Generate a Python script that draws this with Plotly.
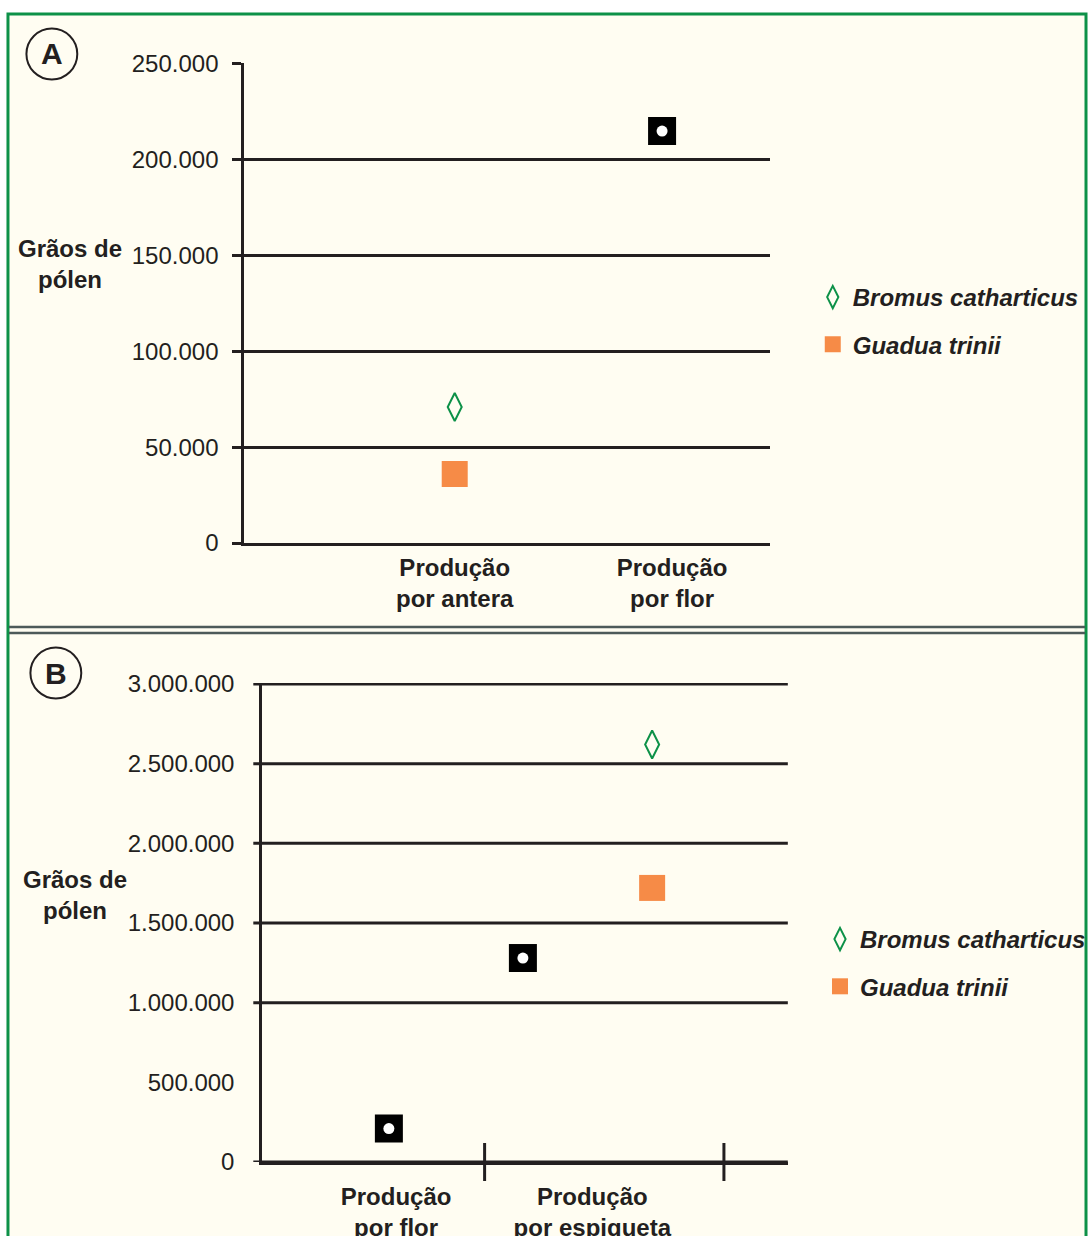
import plotly.graph_objects as go

# ---------------- data ----------------
cats_A = ["Produção por antera", "Produção por flor"]
bromus_A = [71000, None]
guadua_A = [36000, None]
third_A = [None, 215000]
yticks_A = [0, 50000, 100000, 150000, 200000, 250000]

cats_B = ["Produção por flor", "Produção por espigueta"]
bromus_B = [None, 2620000]
guadua_B = [None, 1720000]
third_B = [210000, 1280000]
yticks_B = [0, 500000, 1000000, 1500000, 2000000, 2500000, 3000000]
grid_B = [0, 1000000, 1500000, 2000000, 2500000, 3000000]

species = ["Bromus catharticus", "Guadua trinii"]
ytitle = "Grãos de pólen"

# ---------------- style ----------------
W, H = 1091, 1236
INK = "#231f20"
CREAM = "#fffdf2"
GREEN = "#0d9148"
ORANGE = "#f68b47"
FONT = "Liberation Sans, Arial, sans-serif"

def px_x(p):
    return p / W

def px_y(p):
    return 1 - p / H

def fmt(v):
    return f"{v:,}".replace(",", ".")

def two_line(label):
    a, b = label.split(" ", 1)
    return f"<b>{a}</b><br><b>{b}</b>"

# category positions (numeric axis), with small visual nudges per series
pos_A = [i + 1 for i in range(len(cats_A))]
pos_B = [i + 1 for i in range(len(cats_B))]
nudge_A_third = [0, -0.046]
nudge_B_species = [0.2, 0.2]
nudge_B_third = [0.1, -0.34]
label_nudge_B = [0.13, -0.05]

def xs(pos, vals, nudges):
    return [p + n for p, v, n in zip(pos, vals, nudges) if v is not None]

def ys(vals):
    return [v for v in vals if v is not None]

fig = go.Figure()

def add_panel(xa, ya, pos, bro, gua, thr, nb, nt, legend):
    fig.add_trace(go.Scatter(
        x=xs(pos, bro, nb), y=ys(bro), mode="markers", xaxis=xa, yaxis=ya,
        name=f"<b><i>{species[0]}</i></b>", legend=legend, legendgroup=legend + "b",
        marker=dict(symbol="diamond-tall-open", size=20, color=GREEN,
                    line=dict(width=2, color=GREEN)),
        showlegend=True))
    fig.add_trace(go.Scatter(
        x=xs(pos, gua, nb), y=ys(gua), mode="markers", xaxis=xa, yaxis=ya,
        name=f"<b><i>{species[1]}</i></b>", legend=legend, legendgroup=legend + "g",
        marker=dict(symbol="square", size=26, color=ORANGE, line=dict(width=0)),
        showlegend=True))
    fig.add_trace(go.Scatter(
        x=xs(pos, thr, nt), y=ys(thr), mode="markers", xaxis=xa, yaxis=ya,
        marker=dict(symbol="square", size=28, color="black", line=dict(width=0)),
        showlegend=False))
    fig.add_trace(go.Scatter(
        x=xs(pos, thr, nt), y=ys(thr), mode="markers", xaxis=xa, yaxis=ya,
        marker=dict(symbol="circle", size=11, color="white", line=dict(width=0)),
        showlegend=False))

add_panel("x", "y", pos_A, bromus_A, guadua_A, third_A,
          [0, 0], nudge_A_third, "legend")
add_panel("x2", "y2", pos_B, bromus_B, guadua_B, third_B,
          nudge_B_species, nudge_B_third, "legend2")

tickfont = dict(family=FONT, size=24, color=INK)
catfont = dict(family=FONT, size=24, color=INK)
legfont = dict(family=FONT, size=24, color=INK)
rngA = [0.032, 2.45]
rngB = [0.571, 2.767]
ymaxA = yticks_A[-1] * 1.002
ymaxB = yticks_B[-1] * 1.002

fig.update_layout(
    template="none",
    width=W, height=H, autosize=False,
    margin=dict(l=0, r=0, t=0, b=0, pad=0),
    paper_bgcolor="white", plot_bgcolor="rgba(0,0,0,0)",
    font=dict(family=FONT, color=INK),
    hovermode=False,
    xaxis=dict(
        domain=[px_x(245), px_x(772)], anchor="y", range=rngA,
        tickvals=pos_A, ticktext=[two_line(c) for c in cats_A],
        ticks="", showgrid=False, zeroline=False, automargin=False,
        showline=True, linecolor=INK, linewidth=3,
        tickfont=catfont, ticklabelstandoff=1, fixedrange=True),
    yaxis=dict(
        domain=[px_y(543), px_y(63)], anchor="x", range=[0, ymaxA],
        tickvals=yticks_A, ticktext=[fmt(v) for v in yticks_A],
        ticks="outside", ticklen=9, tickwidth=3, tickcolor=INK,
        showgrid=True, gridcolor=INK, gridwidth=3, zeroline=False,
        showline=True, linecolor=INK, linewidth=3, automargin=False,
        tickfont=tickfont, ticklabelstandoff=9, fixedrange=True),
    xaxis2=dict(
        domain=[px_x(263), px_x(790)], anchor="y2", range=rngB,
        tickvals=[p + n for p, n in zip(pos_B, label_nudge_B)],
        ticktext=[two_line(c) for c in cats_B],
        ticks="", showgrid=False, zeroline=False, automargin=False,
        showline=True, linecolor=INK, linewidth=3,
        tickfont=catfont, ticklabelstandoff=11, fixedrange=True),
    yaxis2=dict(
        domain=[px_y(1162), px_y(683)], anchor="x2", range=[0, ymaxB],
        tickvals=yticks_B, ticktext=[fmt(v) for v in yticks_B],
        ticks="", showgrid=False, zeroline=False, automargin=False,
        showline=True, linecolor=INK, linewidth=3,
        tickfont=tickfont, ticklabelstandoff=20, fixedrange=True),
    legend=dict(
        x=px_x(815), y=px_y(275), xanchor="left", yanchor="top",
        bgcolor="rgba(0,0,0,0)", borderwidth=0, font=legfont,
        traceorder="grouped", tracegroupgap=13, itemclick=False),
    legend2=dict(
        x=px_x(822.5), y=px_y(917), xanchor="left", yanchor="top",
        bgcolor="rgba(0,0,0,0)", borderwidth=0, font=legfont,
        traceorder="grouped", tracegroupgap=13, itemclick=False),
)

# panel frame and divider
fig.add_shape(type="rect", xref="paper", yref="paper",
              x0=px_x(8), x1=px_x(1089), y0=px_y(1250), y1=px_y(14),
              fillcolor=CREAM, line=dict(color=GREEN, width=3), layer="below")
for yy in (627, 633):
    fig.add_shape(type="line", xref="paper", yref="paper",
                  x0=px_x(9), x1=px_x(1088), y0=px_y(yy), y1=px_y(yy),
                  line=dict(color="#4d5a5a", width=2.5), layer="below")

# panel B gridlines (with their left tick stubs) and category boundary ticks
stub = 9 / (789 - 262)
for v in grid_B:
    fig.add_shape(type="line", xref="x2 domain", yref="y2",
                  x0=-stub, x1=1, y0=v, y1=v,
                  line=dict(color=INK, width=3), layer="below")
half = 19 / (1162 - 683)
for p in pos_B:
    fig.add_shape(type="line", xref="x2", yref="y2 domain",
                  x0=p + 0.5, x1=p + 0.5, y0=-half, y1=half,
                  line=dict(color=INK, width=3), layer="below")

# panel letters
for letter, cx, cy in (("A", 52, 54), ("B", 56, 673)):
    fig.add_shape(type="circle", xref="paper", yref="paper",
                  x0=px_x(cx - 25.5), x1=px_x(cx + 25.5),
                  y0=px_y(cy + 25.5), y1=px_y(cy - 25.5),
                  line=dict(color=INK, width=2))
    fig.add_annotation(x=px_x(cx), y=px_y(cy), xref="paper", yref="paper",
                       xanchor="center", yanchor="middle",
                       text=f"<b>{letter}</b>", showarrow=False,
                       font=dict(family=FONT, size=30, color=INK))

# y-axis titles
t1, t2 = ytitle.rsplit(" ", 1)
for cx, cy in ((70, 264), (75, 895)):
    fig.add_annotation(x=px_x(cx), y=px_y(cy), xref="paper", yref="paper",
                       xanchor="center", yanchor="middle",
                       text=f"<b>{t1}</b><br><b>{t2}</b>", showarrow=False,
                       align="center",
                       font=dict(family=FONT, size=24, color=INK))

fig.write_html(
    "out.html",
    config={"displayModeBar": False},
    post_script="document.body.style.margin='0px';"
                "document.body.style.overflow='hidden';",
)
